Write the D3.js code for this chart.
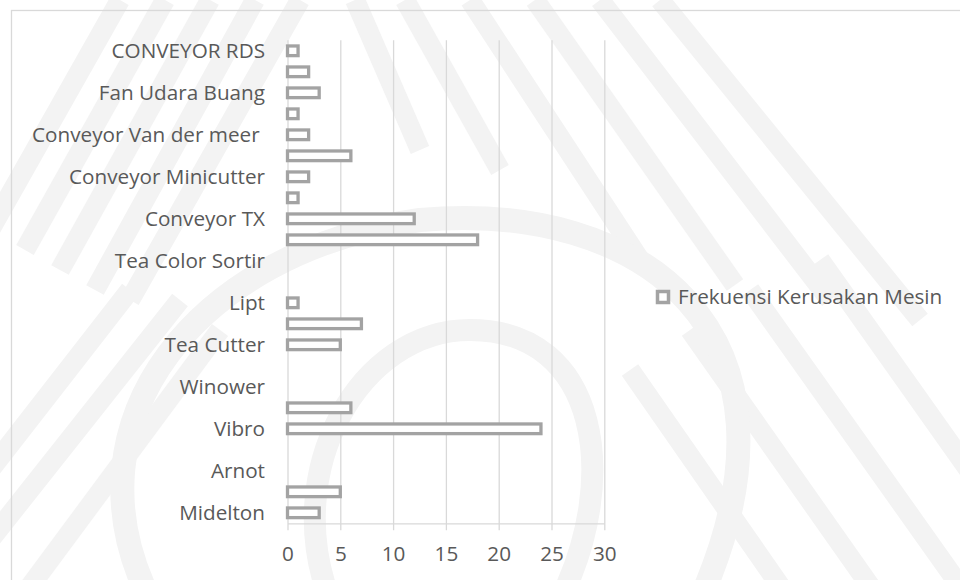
<!DOCTYPE html>
<html>
<head>
<meta charset="utf-8">
<script src="https://cdn.jsdelivr.net/npm/d3@7"></script>
<style>
  body { margin: 0; background: #fff; }
  svg text { font-family: "Open Sans", sans-serif; fill: #595959; }
</style>
</head>
<body>
<div id="chart"></div>
<script>
// categories from bottom to top, blank ones are the labels Excel skipped
var categories = ["Midelton", "", "Arnot", "", "Vibro", "", "Winower", "", "Tea Cutter", "",
    "Lipt", "", "Tea Color Sortir", "", "Conveyor TX", "", "Conveyor Minicutter", "",
    "Conveyor Van der meer ", "", "Fan Udara Buang", "", "CONVEYOR RDS"];
var values = [3, 5, 0, 0, 24, 6, 0, 0, 5, 7, 1, 0, 0, 18, 12, 1, 2, 6, 2, 1, 3, 2, 1];
var xTicks = [0, 5, 10, 15, 20, 25, 30];
var seriesName = "Frekuensi Kerusakan Mesin";

var width = 960, height = 580;
var plotLeft = 287.5, plotRight = 604.3, plotTop = 40.3, plotBottom = 523.3;
var gridColor = '#d9d9d9', barColor = '#a3a3a3';
var fontSize = '20.7px';

var svg = d3.select('#chart')
    .append('svg')
    .attr('width', width)
    .attr('height', height);

// faint watermark behind the chart
var wm = svg.append('g')
    .attr('fill', 'none')
    .attr('stroke', '#f3f3f3')
    .attr('stroke-width', 20);

function stripe(s) {
    wm.append('line').attr('x1', s[0]).attr('y1', s[1]).attr('x2', s[2]).attr('y2', s[3]);
}
// roof stripes, left half "/" and right half "\"
[[-10, 230, 120, 0], [25, 250, 165, 0], [60, 270, 210, 0], [95, 290, 255, 0], [130, 300, 300, 0]].forEach(stripe);
[[355, 0, 420, 150], [405, 0, 500, 170], [470, 0, 640, 260], [535, 0, 735, 285], [600, 0, 830, 300], [660, 0, 920, 320]].forEach(stripe);
// lower right stripes
[[630, 370, 790, 600], [690, 330, 880, 600], [750, 290, 970, 600], [820, 260, 990, 500]].forEach(stripe);
// lower left stripes
[[-10, 470, 130, 290], [-10, 540, 180, 300], [20, 600, 220, 330]].forEach(stripe);
// big rounded shape in the middle
wm.append('path')
    .attr('stroke-width', 24)
    .attr('d', 'M 150 600 C 60 420, 200 250, 420 220 C 640 200, 820 330, 700 600');
wm.append('path')
    .attr('stroke-width', 22)
    .attr('d', 'M 330 600 C 280 470, 360 330, 470 330 C 600 330, 620 480, 560 600');

// chart area border (runs off the right and bottom edge)
svg.append('rect')
    .attr('x', 11.5)
    .attr('y', 10.5)
    .attr('width', 1000)
    .attr('height', 1000)
    .attr('fill', 'none')
    .attr('stroke', gridColor)
    .attr('stroke-width', 1.3);

var x = d3.scaleLinear()
    .domain([0, 30])
    .range([plotLeft, plotRight]);

var y = d3.scaleBand()
    .domain(d3.range(categories.length))
    .range([plotBottom, plotTop])
    .paddingInner(0.54)
    .paddingOuter(0.27);

// x axis with gridlines
var xAxis = svg.append('g')
    .attr('transform', 'translate(0,' + plotBottom + ')')
    .call(d3.axisBottom(x).tickValues(xTicks).tickSizeOuter(0));

xAxis.select('.domain')
    .attr('stroke', gridColor)
    .attr('stroke-width', 1.3);

xAxis.selectAll('.tick line')
    .attr('y1', 7)
    .attr('y2', plotTop - plotBottom)
    .attr('stroke', gridColor)
    .attr('stroke-width', 1.3);

xAxis.selectAll('.tick text')
    .attr('y', 30)
    .attr('dy', '0.35em')
    .style('font-size', fontSize)
    .style('font-family', '"Open Sans", sans-serif')
    .attr('fill', '#595959');

// category labels
svg.selectAll('text.cat')
    .data(categories).enter()
    .append('text')
    .attr('class', 'cat')
    .attr('x', 265)
    .attr('y', function (d, i) { return y(i) + y.bandwidth() / 2; })
    .attr('dy', '0.35em')
    .attr('text-anchor', 'end')
    .style('white-space', 'pre')
    .style('font-size', fontSize)
    .text(function (d) { return d; });

// hollow bars
svg.selectAll('rect.bar')
    .data(values).enter()
    .append('rect')
    .attr('class', 'bar')
    .attr('x', x(0))
    .attr('y', function (d, i) { return y(i); })
    .attr('width', function (d) { return x(d) - x(0); })
    .attr('height', y.bandwidth())
    .attr('fill', '#fff')
    .attr('stroke', barColor)
    .attr('stroke-width', 3.3);

// legend
var legend = svg.append('g')
    .attr('transform', 'translate(663,297)');

legend.append('rect')
    .attr('x', -5.5)
    .attr('y', -5.5)
    .attr('width', 11)
    .attr('height', 11)
    .attr('fill', '#fff')
    .attr('stroke', barColor)
    .attr('stroke-width', 3.5);

legend.append('text')
    .attr('x', 15)
    .attr('dy', '0.35em')
    .style('font-size', fontSize)
    .text(seriesName);
</script>
</body>
</html>
